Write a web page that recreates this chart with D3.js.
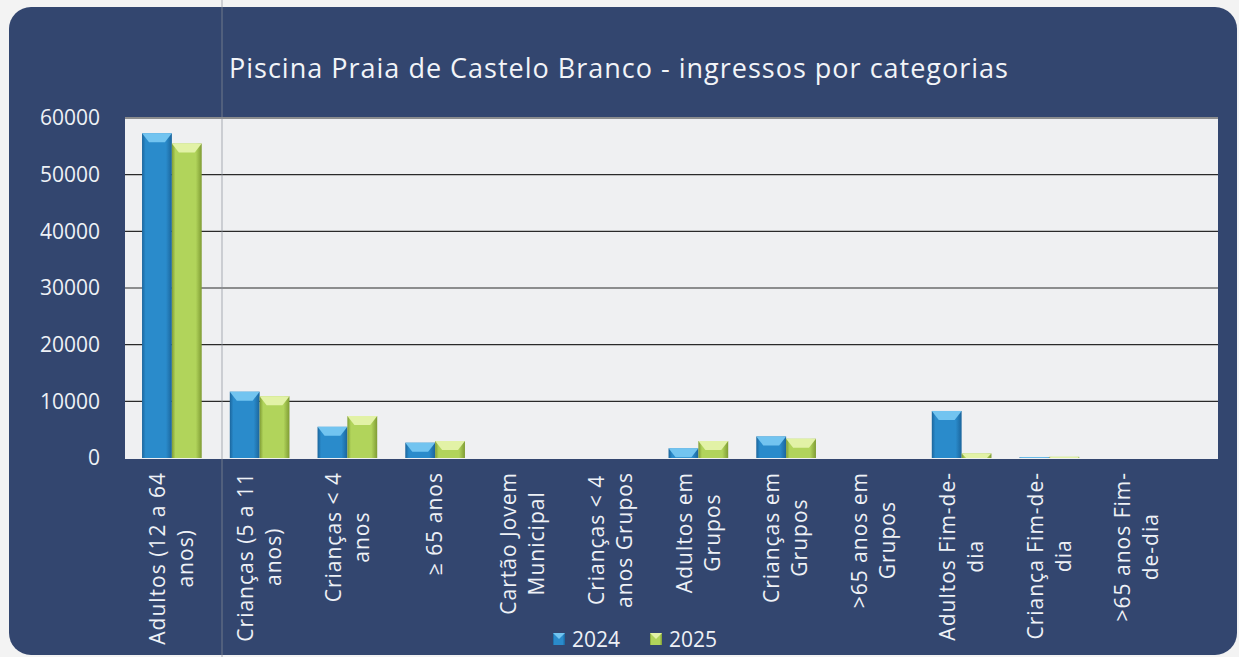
<!DOCTYPE html>
<html>
<head>
<meta charset="utf-8">
<script src="https://cdn.jsdelivr.net/npm/d3@7"></script>
<style>
  body { margin: 0; background: #f3f3f3; }
  svg { display: block; font-family: "Open Sans", sans-serif; }
</style>
</head>
<body>
<script>
// data
var categories = ["Adultos (12 a 64 anos)", "Crianças (5 a 11 anos)", "Crianças < 4 anos", "≥ 65 anos",
  "Cartão Jovem Municipal", "Crianças < 4 anos Grupos", "Adultos em Grupos", "Crianças em Grupos",
  ">65 anos em Grupos", "Adultos Fim-de-dia", "Criança Fim-de-dia", ">65 anos Fim-de-dia"];
var tickLines = [["Adultos (12 a 64", "anos)"], ["Crianças (5 a 11", "anos)"], ["Crianças < 4", "anos"], ["≥ 65 anos"],
  ["Cartão Jovem", "Municipal"], ["Crianças < 4", "anos Grupos"], ["Adultos em", "Grupos"], ["Crianças em", "Grupos"],
  [">65 anos em", "Grupos"], ["Adultos Fim-de-", "dia"], ["Criança Fim-de-", "dia"], [">65 anos Fim-", "de-dia"]];
var seriesNames = ["2024", "2025"];
var values2024 = [57300, 11700, 5500, 2700, 0, 0, 1700, 3800, 0, 8300, 150, 0];
var values2025 = [55500, 10900, 7400, 3000, 0, 0, 3000, 3400, 0, 800, 200, 0];
var yTicks = [0, 10000, 20000, 30000, 40000, 50000, 60000];
var title = "Piscina Praia de Castelo Branco - ingressos por categorias";

var W = 1239, H = 657;
var plot = {left: 125, right: 1218, top: 117, bottom: 459};

var svg = d3.select("body").append("svg")
    .attr("width", W)
    .attr("height", H);

var defs = svg.append("defs");
//bar shading, darker at the sides
function barGradient(id, dark, mid) {
    var g = defs.append("linearGradient").attr("id", id)
        .attr("x1", "0").attr("x2", "1").attr("y1", "0").attr("y2", "0");
    g.append("stop").attr("offset", "0%").attr("stop-color", dark);
    g.append("stop").attr("offset", "12%").attr("stop-color", mid);
    g.append("stop").attr("offset", "80%").attr("stop-color", mid);
    g.append("stop").attr("offset", "100%").attr("stop-color", dark);
}
barGradient("g2024", "#1b659c", "#2a8bcb");
barGradient("g2025", "#7f9c34", "#b1d45b");
var topColor = {"2024": "#72c4f0", "2025": "#e2f2a6"};

// navy panel
svg.append("rect")
    .attr("x", 9).attr("y", 7)
    .attr("width", 1228).attr("height", 648)
    .attr("rx", 22).attr("ry", 22)
    .attr("fill", "#33466f");

// title
svg.append("text")
    .attr("x", 619).attr("y", 78)
    .attr("text-anchor", "middle")
    .attr("fill", "#f2f4f8")
    .style("font-size", "27px")
    .style("letter-spacing", "1px")
    .text(title);

// plot area
svg.append("rect")
    .attr("x", plot.left).attr("y", plot.top)
    .attr("width", plot.right - plot.left).attr("height", plot.bottom - plot.top)
    .attr("fill", "#eff0f2");

var y = d3.scaleLinear().domain([0, 60000]).range([458, 118]);
var x0 = d3.scaleBand().domain(categories).range([128, 1181])
    .paddingInner(0.32).paddingOuter(0.16);
var x1 = d3.scaleBand().domain(seriesNames).range([0, x0.bandwidth()]);

// gridlines
svg.append("g").selectAll("line")
    .data(yTicks.filter(function(d) { return d > 0; }))
    .enter().append("line")
    .attr("x1", plot.left).attr("x2", plot.right)
    .attr("y1", function(d) { return y(d); })
    .attr("y2", function(d) { return y(d); })
    .attr("stroke", "#2a2a2a")
    .attr("stroke-width", 1.2);

// y axis labels
var yAxis = d3.axisLeft(y).tickValues(yTicks).tickSize(0).tickPadding(25)
    .tickFormat(d3.format("d"));
var yg = svg.append("g").attr("transform", "translate(" + plot.left + ",0)").call(yAxis);
yg.select(".domain").remove();
yg.selectAll("text").attr("fill", "#eef1f6").style("font-size", "21px")
    .style("font-family", "'Open Sans', sans-serif");

// bars
var rows = categories.map(function(c, i) {
    return {cat: c, vals: [{s: "2024", v: values2024[i]}, {s: "2025", v: values2025[i]}]};
});
var groups = svg.append("g").selectAll("g")
    .data(rows).enter().append("g")
    .attr("transform", function(d) { return "translate(" + x0(d.cat) + ",0)"; });

var bars = groups.selectAll("g").data(function(d) { return d.vals.filter(function(v) { return v.v > 0; }); })
    .enter().append("g");
bars.append("rect")
    .attr("x", function(d) { return x1(d.s); })
    .attr("y", function(d) { return y(d.v); })
    .attr("width", x1.bandwidth())
    .attr("height", function(d) { return y(0) - y(d.v); })
    .attr("fill", function(d) { return "url(#g" + d.s + ")"; });
//top bevel
bars.append("path")
    .attr("d", function(d) {
        var bx = x1(d.s), bw = x1.bandwidth(), by = y(d.v);
        var h = Math.min(9, y(0) - by);
        var ins = Math.min(7, h);
        return "M" + bx + "," + by + "L" + (bx + bw) + "," + by +
            "L" + (bx + bw - ins) + "," + (by + h) + "L" + (bx + ins) + "," + (by + h) + "Z";
    })
    .attr("fill", function(d) { return topColor[d.s]; });

// x labels
var lineH = 28, fs = 21, labelTop = 472;
var xl = svg.append("g");
tickLines.forEach(function(lines, i) {
    var cx = x0(categories[i]) + x0.bandwidth() / 2;
    var t = xl.append("text")
        .attr("transform", "translate(" + cx + "," + labelTop + ") rotate(-90)")
        .attr("fill", "#eef1f6")
        .style("font-size", fs + "px")
        .style("letter-spacing", "1px")
        .attr("text-anchor", "middle");
    var spans = lines.map(function(l, j) {
        return t.append("tspan").attr("x", 0)
            .attr("y", (j - (lines.length - 1) / 2) * lineH + fs * 0.35)
            .text(l);
    });
    var maxLen = d3.max(spans, function(s) { return s.node().getComputedTextLength(); });
    spans.forEach(function(s) { s.attr("x", -maxLen / 2); });
});

// legend
var legend = svg.append("g");
var legendX = [553, 650];
seriesNames.forEach(function(s, i) {
    legend.append("rect")
        .attr("x", legendX[i]).attr("y", 633)
        .attr("width", 12).attr("height", 12)
        .attr("fill", "url(#g" + s + ")");
    legend.append("path")
        .attr("d", "M" + legendX[i] + ",633L" + (legendX[i] + 12) + ",633L" + (legendX[i] + 6) + ",639Z")
        .attr("fill", topColor[s]);
    legend.append("text")
        .attr("x", legendX[i] + 19).attr("y", 647)
        .attr("fill", "#eef1f6")
        .style("font-size", "21px")
        .text(s);
});

// fold line from the scan
svg.append("line")
    .attr("x1", 222).attr("x2", 222).attr("y1", 0).attr("y2", H)
    .attr("stroke", "#8a8f99").attr("stroke-width", 1).attr("opacity", 0.7);
</script>
</body>
</html>
